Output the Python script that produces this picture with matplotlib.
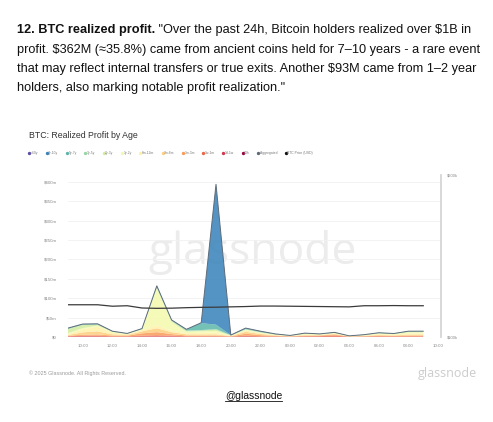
import numpy as np
import matplotlib
matplotlib.use("Agg")
import matplotlib.pyplot as plt
from matplotlib.lines import Line2D

plt.rcParams['font.family'] = ['Liberation Sans', 'DejaVu Sans']

# ---------------- data ----------------
hours = list(range(9, 34))  # 09:00 .. 09:00 next day (hourly)
age_24h    = [0.5,0.5,0.5,0.3,0.3,0.5,0.5,0.5,0.3,0.3,0.3,0.2,0.5,0.3,0.3,0.2,0.3,0.3,0.3,0.1,0.2,0.3,0.3,0.3,0.3]
age_1d_1w  = [0.5,1,1,0.5,0.5,1,1,1,0.5,0.5,0.5,0.3,1,0.5,0.3,0.2,0.5,0.4,0.5,0.2,0.3,0.5,0.4,0.5,0.5]
age_1w_1m  = [1,1.5,2,1,1,2,3,2,1,1,1,0.5,2,1,0.6,0.3,1,1.5,3,0.3,0.5,1,0.8,1,1]
age_1m_3m  = [1,3,3,2,1.5,6,8,4,2,2,2,0.5,5,3,1.5,0.6,1.5,1.5,2.5,0.4,0.8,1.5,1.2,2,2]
age_3m_6m  = [2,6,8,3,2,5,10,5,3,3,3,1,5,3,1.5,0.8,1.5,1,1.5,0.5,1,2,1.5,2.5,2.5]
age_6m_12m = [2,8,12,4,2,3,8,4,3,4,4,1,3,2,1,0.7,1.5,1,1.2,0.5,1,2,1.6,3,3]
age_1y_2y  = [3,3,3,2,1,2,95,22,4,4,5,0.5,2,1.5,1,0.5,1.5,1,1.2,0.4,1,2,1.5,3,3]
age_2y_3y  = [10,8,2,1,0.5,1,3,3,2,2,3,0.3,1,1,0.6,0.3,0.8,0.5,0.8,0.2,0.5,0.7,0.7,1.3,1.3]
age_3y_5y  = [2,1,1,0.5,0.2,0.5,1,1,1,1,2,0.2,1,0.7,0.4,0.2,0.5,0.3,0.4,0.2,0.3,0.4,0.4,0.6,0.6]
age_5y_7y  = [1,1,1,0.5,0.2,0.5,1.5,1,2.5,18,11,0.3,1.5,1.5,0.6,0.2,0.7,0.4,0.5,0.2,0.4,0.6,0.6,0.8,0.8]
age_7y_10y = [0,0.5,0.5,0.2,0,0.3,1,0.5,0.5,1,362,0.2,1,0.5,0.2,0,0.2,0.1,0.1,0,0,0,0,0,0]
age_gt10y  = [0,0,0,0,0,0,0,0,0,0,0.2,0,0,0,0,0,0,0,0,0,0,0,0,0,0]
btc_price_k = [119.9,119.9,119.9,119.0,119.3,117.9,117.7,117.8,118.1,118.3,118.4,118.6,118.8,
               119.1,119.1,119.0,118.9,118.8,118.7,118.6,119.3,119.3,119.4,119.3,119.3]

layer_labels = ["24h","1d-1w","1w-1m","1m-3m","3m-6m","6m-12m","1y-2y","2y-3y","3y-5y","5y-7y","7y-10y",">10y"]
layers = [age_24h, age_1d_1w, age_1w_1m, age_1m_3m, age_3m_6m, age_6m_12m,
          age_1y_2y, age_2y_3y, age_3y_5y, age_5y_7y, age_7y_10y, age_gt10y]
left_ticks = [0, 50, 100, 150, 200, 250, 300, 350, 400]
left_tick_labels = ["$0", "$50m", "$100m", "$150m", "$200m", "$250m", "$300m", "$350m", "$400m"]
x_ticks = list(range(10, 35, 2))
x_tick_labels = ["10:00","12:00","14:00","16:00","18:00","20:00","22:00","00:00","02:00","04:00","06:00","08:00","10:00"]
right_ticks = [100, 200]
right_tick_labels = ["$100k", "$200k"]

heading_bold = "12. BTC realized profit."
heading_lines = [' "Over the past 24h, Bitcoin holders realized over $1B in',
                 'profit. $362M (≈35.8%) came from ancient coins held for 7–10 years - a rare event',
                 'that may reflect internal transfers or true exits. Another $93M came from 1–2 year',
                 'holders, also marking notable profit realization."']

# ---------------- figure ----------------
W, H = 493, 422
fig = plt.figure(figsize=(W/100, H/100), dpi=100)
fig.patch.set_facecolor('white')

def fx(px): return px / W
def fy(py): return 1 - py / H

colors = plt.cm.Spectral(np.linspace(0, 1, 12))

ax = fig.add_axes([fx(68), fy(337), fx(441) - fx(68), fy(175) - fy(337)])
ax.set_facecolor('none')
total = np.sum(np.array(layers), axis=0)
ax.stackplot(hours, layers, colors=colors, alpha=0.85, linewidth=0, zorder=2)
ax.plot(hours, total, color='#5d6b79', lw=0.7, zorder=3)
ax.set_xlim(9, 34.2)
ax.set_ylim(0, 418)
ax.set_yticks(left_ticks)
ax.set_yticklabels(left_tick_labels)
ax.set_xticks(x_ticks)
ax.set_xticklabels(x_tick_labels)
ax.tick_params(axis='both', length=0, labelsize=3.2, colors='#8a8a8a')
ax.tick_params(axis='y', pad=8)
ax.tick_params(axis='x', pad=5)
for s in ax.spines.values():
    s.set_visible(False)
ax.yaxis.grid(True, color='#f1f1f1', lw=0.6)
ax.set_axisbelow(True)
ax.text(0.496, 0.52, 'glassnode', transform=ax.transAxes, ha='center', va='center',
        fontsize=32, color='#ececec', zorder=0, family='Open Sans')

ax2 = ax.twinx()
ax2.plot(hours, btc_price_k, color='#3a3a3a', lw=0.9, zorder=4)
ax2.set_ylim(100, 200)
ax2.set_yticks(right_ticks)
ax2.set_yticklabels(right_tick_labels)
ax2.tick_params(axis='y', length=0, labelsize=3.0, colors='#8a8a8a', pad=4)
for k, s in ax2.spines.items():
    s.set_visible(k == 'right')
ax2.spines['right'].set_color('#d6d6d6')
ax2.spines['right'].set_linewidth(1.3)

# chart title and legend
fig.text(fx(29), fy(136), 'BTC: Realized Profit by Age', fontsize=6.3, color='#333333',
         va='center', ha='left')
handles = []
leg_labels = []
for lab, c in zip(layer_labels[::-1], colors[::-1]):
    handles.append(Line2D([], [], ls='none', marker='o', ms=1.4, color=c))
    leg_labels.append(lab)
handles.append(Line2D([], [], ls='none', marker='o', ms=1.4, color='#5d6b79'))
leg_labels.append('Aggregated')
handles.append(Line2D([], [], ls='none', marker='o', ms=1.4, color='#111111'))
leg_labels.append('BTC Price (USD)')
leg = fig.legend(handles, leg_labels, loc='center left', bbox_to_anchor=(fx(28), fy(153)),
                 ncol=14, fontsize=2.4, frameon=False, handlelength=0.6, handletextpad=0.2,
                 columnspacing=2.2, borderpad=0, borderaxespad=0)
for t in leg.get_texts():
    t.set_color('#777777')

# footer
fig.text(fx(29), fy(373), '© 2025 Glassnode. All Rights Reserved.', fontsize=3.9,
         color='#9a9a9a', va='center', ha='left')
fig.text(fx(477), fy(374), 'glassnode', fontsize=9, color='#cccccc', va='center', ha='right',
         family='Open Sans')

# heading
renderer = fig.canvas.get_renderer()
hs = 9.2
t0 = fig.text(fx(17), fy(33.5), heading_bold, fontsize=hs, fontweight='bold', color='#111111',
              va='baseline', ha='left', parse_math=False)
bb = t0.get_window_extent(renderer)
fig.text(bb.x1 / W, fy(33.5), heading_lines[0], fontsize=hs, color='#111111',
         va='baseline', ha='left', parse_math=False)
for i, line in enumerate(heading_lines[1:]):
    fig.text(fx(17), fy(33.5 + 19.1 * (i + 1)), line, fontsize=hs, color='#111111',
             va='baseline', ha='left', parse_math=False)

# link
tl = fig.text(fx(253.5), fy(399), '@glassnode', fontsize=7.4, color='#111111',
              va='baseline', ha='center')
bl = tl.get_window_extent(renderer)
fig.add_artist(Line2D([bl.x0 / W, bl.x1 / W], [fy(400.5), fy(400.5)], color='#111111', lw=0.6))

fig.savefig('out.png', dpi=100, facecolor='white')
